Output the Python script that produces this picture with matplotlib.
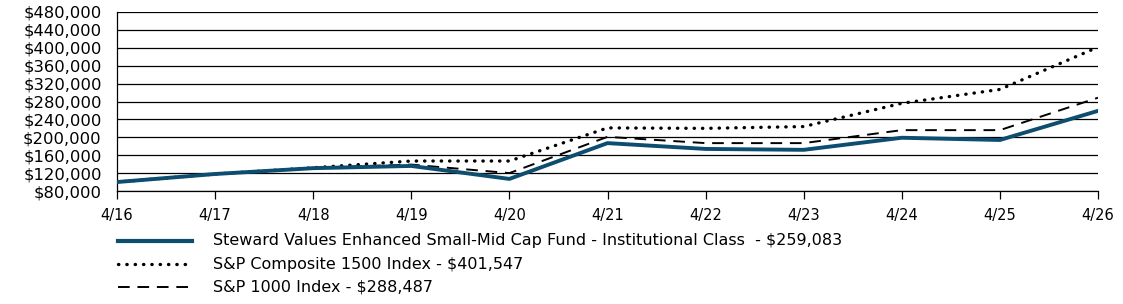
import numpy as np
import matplotlib.pyplot as plt
from matplotlib.lines import Line2D
from matplotlib.ticker import FuncFormatter

plt.rcParams['font.family'] = ['DejaVu Sans']

dates = ["4/16", "4/17", "4/18", "4/19", "4/20", "4/21", "4/22", "4/23", "4/24", "4/25", "4/26"]
fund = [100000, 118000, 131000, 136000, 107000, 187000, 174000, 172000, 199000, 194000, 259083]
sp1500 = [100000, 118000, 132000, 147000, 147000, 221000, 220000, 224000, 276000, 307000, 401547]
sp1000 = [100000, 118000, 132000, 139000, 120000, 201000, 187000, 187000, 216000, 216000, 288487]
labels = ["Steward Values Enhanced Small-Mid Cap Fund - Institutional Class  - $259,083",
          "S&P Composite 1500 Index - $401,547",
          "S&P 1000 Index - $288,487"]

NAVY = "#0d4d70"
fig = plt.figure(figsize=(11.23, 3.04), dpi=100)
ax = fig.add_axes([117/1123, 1 - 191/304, (1098-117)/1123, (191-12)/304])
x = np.arange(len(dates))
ax.plot(x, sp1000, color="black", lw=1.4, ls=(0, (6, 4)), zorder=3)
ax.plot(x, sp1500, color="black", lw=2.4, ls=(0, (0.1, 2.4)), dash_capstyle="round", zorder=3)
ax.plot(x, fund, color=NAVY, lw=2.8, zorder=4, solid_joinstyle="round")

ax.set_xlim(0, len(dates) - 1)
ax.set_ylim(80000, 480000)
ax.set_yticks(np.arange(80000, 480001, 40000))
ax.yaxis.set_major_formatter(FuncFormatter(lambda v, p: f"${v:,.0f}"))
ax.set_xticks(x)
ax.set_xticklabels(dates)
ax.grid(axis="y", color="black", lw=0.9)
ax.tick_params(axis="y", length=0, labelsize=11.8, pad=11)
ax.tick_params(axis="x", length=6, width=0.9, labelsize=10.5, pad=6, direction="out")
for s in ["top", "right"]:
    ax.spines[s].set_visible(False)
ax.spines["left"].set_linewidth(0.9)
ax.spines["bottom"].set_linewidth(0.9)

# legend
rows = [241, 264, 287]
styles = [dict(color=NAVY, lw=3.0),
          dict(color="black", lw=2.4, ls=(0, (0.1, 2.4)), dash_capstyle="round"),
          dict(color="black", lw=1.4, ls=(0, (6, 4)))]
for yy, st, lab in zip(rows, styles, labels):
    yf = 1 - yy / 304
    fig.add_artist(Line2D([118/1123, 192/1123], [yf, yf], transform=fig.transFigure, **st))
    fig.text(213/1123, yf, lab, fontsize=11.5, va="center", ha="left")

fig.savefig("out.png", dpi=100, facecolor="white")
